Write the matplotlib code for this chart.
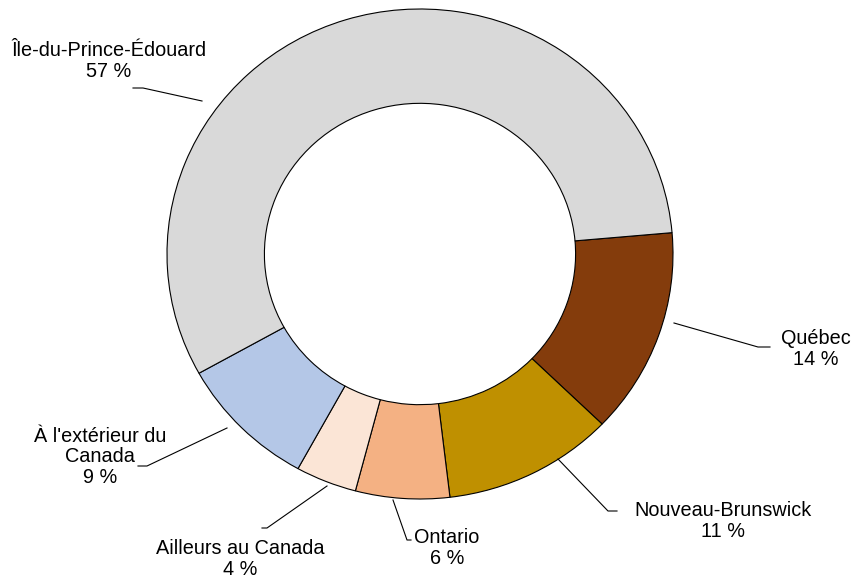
import matplotlib.pyplot as plt

# data, clockwise from the right-hand side
regions = ["Québec", "Nouveau-Brunswick", "Ontario", "Ailleurs au Canada",
           "À l'extérieur du\nCanada", "Île-du-Prince-Édouard"]
shares = [13.6, 10.9, 6.0, 3.9, 8.9, 56.7]
colors = ["#843C0C", "#BF9000", "#F4B183", "#FBE5D6", "#B4C7E7", "#D9D9D9"]

# label layout in pixels: leader start, elbow, end, text centre
leader_start = [(674, 323), (558, 459), (393, 500), (327, 486), (227, 428), (202, 101)]
leader_elbow = [(758, 347), (608, 511), (407, 540), (267, 528), (147, 466), (143, 88)]
leader_end = [(770, 347), (617, 511), (411, 540), (262, 528), (138, 466), (133, 88)]
text_pos = [(816, 349), (723, 521), (447, 548), (240, 559), (100, 457), (109, 61)]

plt.rcParams['font.family'] = ['Liberation Sans', 'DejaVu Sans']

fig = plt.figure(figsize=(8.54, 5.78), dpi=100)
ax = fig.add_axes([0, 0, 1, 1])

ax.pie(shares, colors=colors, startangle=5, counterclock=False, radius=1,
       wedgeprops=dict(width=0.385, edgecolor='black', linewidth=0.8))

sx, sy = 253, 245   # pixels per unit (the original is a little wider than tall)


def px(p):
    return ((p[0] - 420) / sx, (254 - p[1]) / sy)


for i, name in enumerate(regions):
    pts = [px(leader_start[i]), px(leader_elbow[i]), px(leader_end[i])]
    ax.plot([p[0] for p in pts], [p[1] for p in pts], color='black', lw=0.8)
    x, y = px(text_pos[i])
    ax.text(x, y, f"{name}\n{shares[i]:.0f} %", ha='center', va='center',
            fontsize=14.3, linespacing=1.08, color='black')

ax.set_aspect('auto')
ax.set_xlim(-420 / sx, 434 / sx)
ax.set_ylim(-324 / sy, 254 / sy)
ax.axis('off')

fig.savefig('out.png', dpi=100)
